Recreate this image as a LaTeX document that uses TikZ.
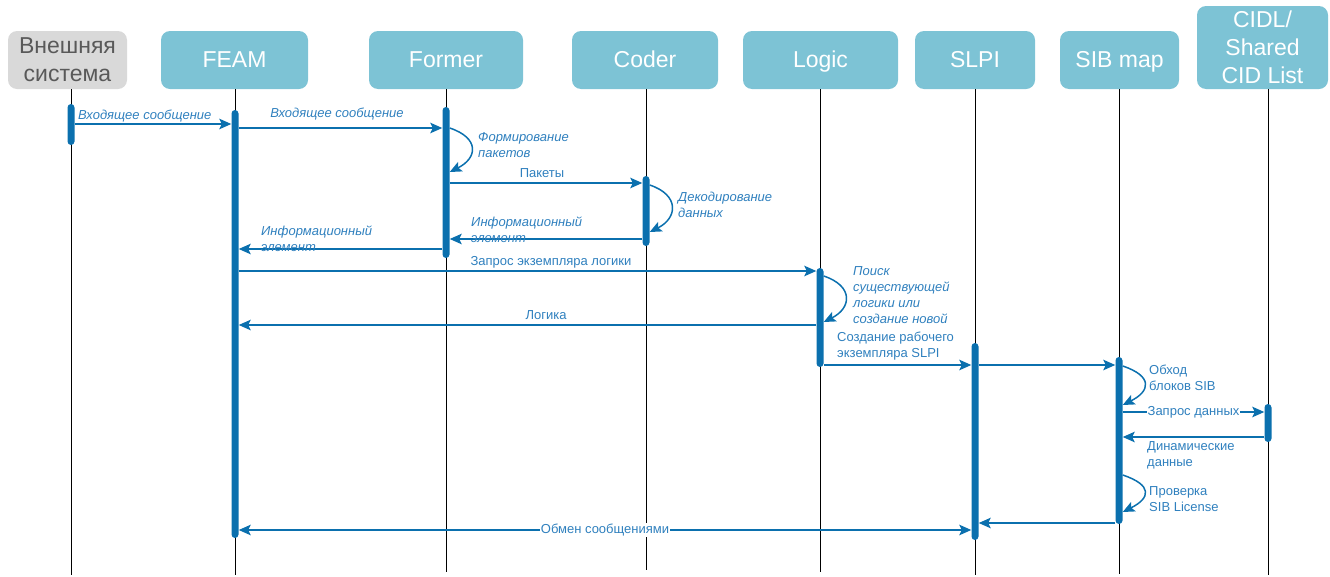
\documentclass[tikz,border=0pt]{standalone}
\usepackage{fontspec}
\setmainfont{Liberation Sans}
\usetikzlibrary{arrows.meta}
\definecolor{hdr}{HTML}{7DC3D5}
\definecolor{extfill}{HTML}{D9D9D9}
\definecolor{exttext}{HTML}{595959}
\definecolor{flow}{HTML}{0B70AE}
\definecolor{lbl}{HTML}{2F80BE}
\begin{document}
\begin{tikzpicture}[x=1pt,y=-1pt,
  head/.style={rounded corners=9pt, fill=hdr, text=white, draw=none,
    font=\fontsize{23}{28}\selectfont, align=center, inner sep=0pt},
  onehead/.style={head, minimum height=58, text height=17pt, text depth=3pt},
  life/.style={black, line width=0.9pt},
  act/.style={rectangle, rounded corners=3.5pt, fill=flow, draw=none,
    minimum width=7, inner sep=0pt},
  tipS/.style={-{Stealth[length=12pt,width=10.5pt,inset=2.5pt]}},
  msg/.style={flow, line width=1.5pt, tipS},
  selfmsg/.style={flow, line width=1.5pt, tipS},
  note/.style={text=lbl, font=\fontsize{13}{16}\selectfont, align=left, inner sep=0pt},
  inote/.style={note, font=\fontsize{13}{16}\selectfont\itshape},
]
\useasboundingbox (0,0) rectangle (1330,576);

% header boxes
\node[head, fill=extfill, text=exttext, minimum width=119, minimum height=58] (ext) at (67.5,60) {Внешняя\\система};
\node[onehead, minimum width=147] (feam) at (234.5,60) {FEAM};
\node[onehead, minimum width=154] (former) at (446,60) {Former};
\node[onehead, minimum width=146] (coder) at (645,60) {Coder};
\node[onehead, minimum width=155] (logic) at (820.5,60) {Logic};
\node[onehead, minimum width=120] (slpi) at (975,60) {SLPI};
\node[onehead, minimum width=119] (sib) at (1119.5,60) {SIB map};
\node[head, minimum width=131, minimum height=83] (cidl) at (1262.5,47.5) {CIDL/\\Shared\\CID List};

% lifelines
\draw[life] (ext.south -| 71,0) -- (71,575);
\draw[life] (feam.south -| 235,0) -- (235,575);
\draw[life] (former.south -| 446,0) -- (446,572);
\draw[life] (coder.south -| 646,0) -- (646,570);
\draw[life] (logic.south -| 820,0) -- (820,572);
\draw[life] (slpi.south -| 975,0) -- (975,575);
\draw[life] (sib.south -| 1119,0) -- (1119,574);
\draw[life] (cidl.south -| 1268,0) -- (1268,575);

% activation bars
\node[act, minimum height=41]  (extB)    at (71,124.5) {};
\node[act, minimum height=428] (feamB)   at (235,324) {};
\node[act, minimum height=151] (formerB) at (446,182.5) {};
\node[act, minimum height=70]  (coderB)  at (646,211) {};
\node[act, minimum height=99]  (logicB)  at (820,317.5) {};
\node[act, minimum height=197] (slpiB)   at (975,441.5) {};
\node[act, minimum height=167] (sibB)    at (1119,440.5) {};
\node[act, minimum height=38]  (cidlB)   at (1268,423) {};

% messages
\draw[msg] (extB.east |- 0,124) -- (feamB.west |- 0,124);
\node[inote, anchor=west] (l1) at (78,116) {Входящее сообщение};

\draw[msg] (feamB.east |- 0,128) -- (formerB.west |- 0,128);
\node[inote] (l2) at (337,114) {Входящее сообщение};

\draw[selfmsg] (formerB.east |- 0,128) .. controls +(30,10) and +(28,-14) .. (formerB.east |- 0,172);
\node[inote, anchor=west] (l3) at (478,145.5) {Формирование\\пакетов};

\draw[msg] (formerB.east |- 0,183) -- (coderB.west |- 0,183);
\node[note] (l4) at (542,173) {Пакеты};

\draw[selfmsg] (coderB.east |- 0,185) .. controls +(30,10) and +(28,-14) .. (coderB.east |- 0,232);
\node[inote, anchor=west] (l5) at (678,204.5) {Декодирование\\данных};

\draw[msg] (coderB.west |- 0,239) -- (formerB.east |- 0,239);
\node[inote, anchor=west] (l6) at (471,230) {Информационный\\элемент};

\draw[msg] (formerB.west |- 0,249) -- (feamB.east |- 0,249);
\node[inote, anchor=west] (l7) at (261,239) {Информационный\\элемент};

\draw[msg] (feamB.east |- 0,271) -- (logicB.west |- 0,271);
\node[note] (l8) at (551,262) {Запрос экземпляра логики};

\draw[selfmsg] (logicB.east |- 0,276) .. controls +(30,10) and +(28,-14) .. (logicB.east |- 0,322);
\node[inote, anchor=west] (l9) at (853,295) {Поиск\\существующей\\логики или\\создание новой};

\draw[msg] (logicB.west |- 0,325) -- (feamB.east |- 0,325);
\node[note] (l10) at (546,315) {Логика};

\draw[msg] (logicB.east |- 0,365) -- (slpiB.west |- 0,365);
\node[note, anchor=west] (l11) at (837,346.5) {Создание рабочего\\экземпляра SLPI};

\draw[msg] (slpiB.east |- 0,365) -- (sibB.west |- 0,365);

\draw[selfmsg] (sibB.east |- 0,366) .. controls +(30,10) and +(28,-14) .. (sibB.east |- 0,405);
\node[note, anchor=west] (l13) at (1149,378) {Обход\\блоков SIB};

\draw[msg] (sibB.east |- 0,412) -- node[note, fill=white, inner sep=1pt] (l14) {Запрос данных} (cidlB.west |- 0,412);

\draw[msg] (cidlB.west |- 0,437) -- (sibB.east |- 0,437);
\node[note, anchor=west] (l15) at (1147,455) {Динамические\\данные};

\draw[selfmsg] (sibB.east |- 0,475) .. controls +(30,10) and +(28,-14) .. (sibB.east |- 0,512);
\node[note, anchor=west] (l16) at (1149,499.5) {Проверка\\SIB License};

\draw[msg] (sibB.west |- 0,523) -- (slpiB.east |- 0,523);

\draw[flow, line width=1.5pt, {Stealth[length=12pt,width=10.5pt,inset=2.5pt]}-{Stealth[length=12pt,width=10.5pt,inset=2.5pt]}]
  (feamB.east |- 0,530) -- node[note, fill=white, inner sep=1pt] (l18) {Обмен сообщениями} (slpiB.west |- 0,530);
\end{tikzpicture}
\end{document}
